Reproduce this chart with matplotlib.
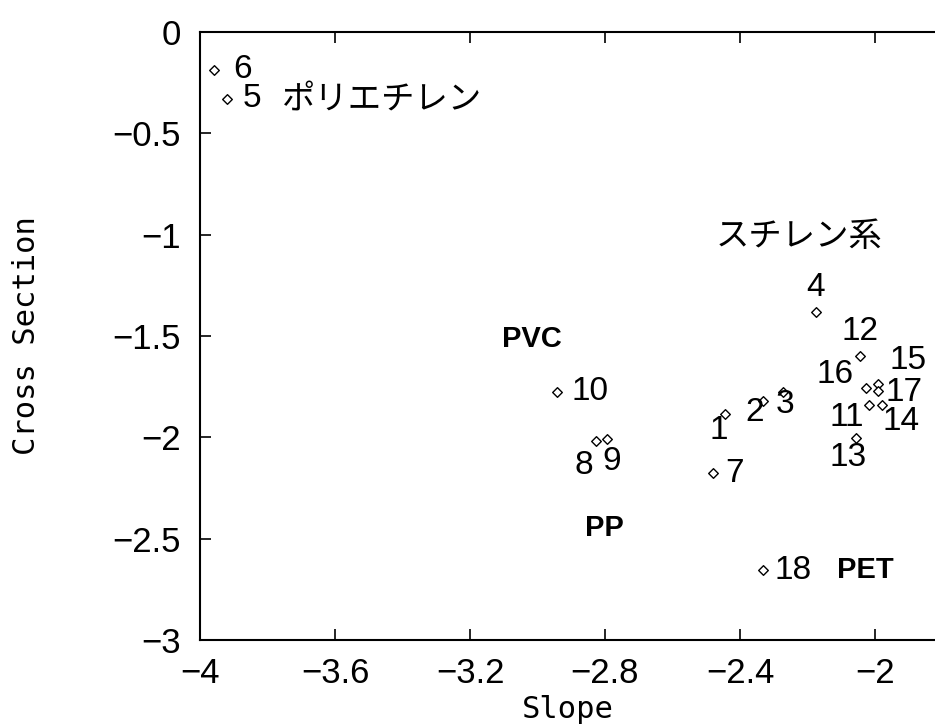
import matplotlib

matplotlib.use("Agg")

import matplotlib.pyplot as plt

# sample id, slope, cross section
ids = ["1", "2", "3", "4", "5", "6", "7", "8", "9", "10",
       "11", "12", "13", "14", "15", "16", "17", "18"]
slope = [-2.444, -2.332, -2.273, -2.175, -3.920, -3.959, -2.480, -2.827, -2.794, -2.942,
         -2.018, -2.044, -2.056, -1.979, -1.991, -2.027, -1.991, -2.332]
cross = [-1.885, -1.820, -1.776, -1.381, -0.330, -0.187, -2.176, -2.018, -2.008, -1.776,
         -1.840, -1.598, -2.003, -1.840, -1.737, -1.756, -1.771, -2.654]

# group names and where they sit in data space
group_names = ["ポリエチレン", "スチレン系", "PVC", "PP", "PET"]
group_x = [-3.757, -2.225, -3.016, -2.803, -2.027]
group_y = [-0.336, -1.011, -1.515, -2.447, -2.654]

x_ticks = [-4, -3.6, -3.2, -2.8, -2.4, -2]
x_tick_labels = ["\u22124", "\u22123.6", "\u22123.2", "\u22122.8", "\u22122.4", "\u22122"]
y_ticks = [0, -0.5, -1, -1.5, -2, -2.5, -3]
y_tick_labels = ["0", "\u22120.5", "\u22121", "\u22121.5", "\u22122", "\u22122.5", "\u22123"]

FONT = ["Liberation Sans", "DejaVu Sans"]
MONO = ["DejaVu Sans Mono", "DejaVu Sans"]
CJK = ["Noto Sans CJK JP", "DejaVu Sans"]

# label offsets in pixels relative to each point, and alignment
label_layout = {
    "1": ((-6, -16), "center"),
    "2": ((-8, -12), "center"),
    "3": ((2, -13), "center"),
    "4": ((0, 24), "center"),
    "5": ((16, 0), "left"),
    "6": ((19, 0), "left"),
    "7": ((12, 0), "left"),
    "8": ((-12, -24), "center"),
    "9": ((5, -22), "center"),
    "10": ((14, 0), "left"),
    "11": ((-5, -13), "right"),
    "12": ((0, 24), "center"),
    "13": ((-8, -19), "center"),
    "14": ((0, -17), "left"),
    "15": ((12, 24), "left"),
    "16": ((-12, 13), "right"),
    "17": ((8, -2), "left"),
    "18": ((12, 0), "left"),
}


def main():
    plt.rcParams["font.family"] = FONT
    fig = plt.figure(figsize=(9.35, 7.25), dpi=100)
    ax = fig.add_axes([0.214, 0.117, 0.786, 0.839])

    ax.scatter(slope, cross, marker="D", s=24, facecolors="white",
               edgecolors="black", linewidths=1.0, zorder=3)

    for name, x, y in zip(ids, slope, cross):
        offset, ha = label_layout[name]
        ax.annotate(name, (x, y), xytext=offset, textcoords="offset pixels",
                    ha=ha, va="center", fontsize=24, family=FONT)

    for name, x, y in zip(group_names, group_x, group_y):
        if name in ("PVC", "PP", "PET"):
            ax.text(x, y, name, ha="center", va="center", fontsize=21,
                    fontweight="bold", family=FONT)
        elif name == "ポリエチレン":
            ax.text(x, y, name, ha="left", va="center", fontsize=24, family=CJK)
        else:
            ax.text(x, y, name, ha="center", va="center", fontsize=24, family=CJK)

    ax.set_xlim(-4, -1.822)
    ax.set_ylim(-3, 0)
    ax.set_xticks(x_ticks)
    ax.set_xticklabels(x_tick_labels)
    ax.set_yticks(y_ticks)
    ax.set_yticklabels(y_tick_labels)
    ax.tick_params(direction="in", length=8, width=1.2, labelsize=25,
                   top=True, right=False)
    ax.tick_params(axis="x", pad=12)
    ax.tick_params(axis="y", pad=14)
    ax.spines["right"].set_visible(False)
    for side in ("left", "bottom", "top"):
        ax.spines[side].set_linewidth(1.5)

    ax.set_xlabel("Slope", fontsize=22, family=MONO, va="top")
    ax.xaxis.set_label_coords(0.5, -0.09)
    ax.set_ylabel("Cross Section", fontsize=22, family=MONO)
    ax.yaxis.set_label_coords(-0.217, 0.5)

    fig.savefig("out.png", dpi=100)
    plt.close(fig)


if __name__ == "__main__":
    main()
